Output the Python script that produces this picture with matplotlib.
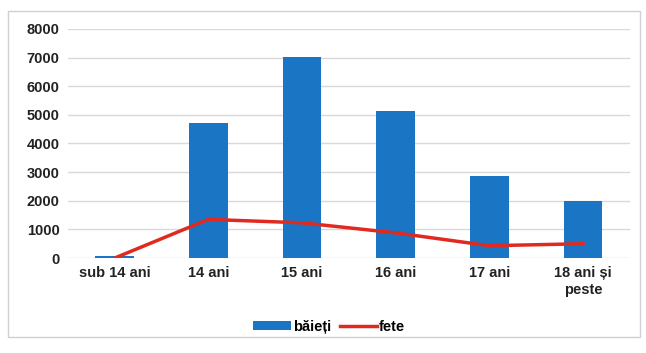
import matplotlib.pyplot as plt
from matplotlib.patches import Rectangle
from matplotlib import font_manager

categorii = ['sub 14 ani', '14 ani', '15 ani', '16 ani', '17 ani', '18 ani și\npeste']
baieti = [60, 4720, 7020, 5140, 2870, 2000]
fete = [0, 1350, 1230, 880, 430, 500]

names = {f.name for f in font_manager.fontManager.ttflist}
fam = 'Liberation Sans Narrow' if 'Liberation Sans Narrow' in names else 'Liberation Sans'
plt.rcParams['font.family'] = [fam, 'DejaVu Sans']

fig = plt.figure(figsize=(6.46, 3.53), dpi=100)
ax = fig.add_axes([0.105, 0.269, 0.870, 0.649])

x = list(range(len(categorii)))
bars = ax.bar(x, baieti, width=0.41, color='#1a75c4', label='băieți', zorder=2)
line, = ax.plot(x, fete, color='#e02a20', linewidth=2.5, label='fete', zorder=3)

ax.set_xlim(-0.5, 5.5)
ax.set_ylim(0, 8000)
ax.set_yticks(range(0, 8001, 1000))
ax.set_xticks(x)
ax.set_xticklabels(categorii)
ax.grid(axis='y', color='#d9d9d9', linewidth=1, zorder=0)
for s in ax.spines.values():
    s.set_visible(False)
ax.tick_params(length=0, labelsize=10.5, colors='#222222', pad=6)
for t in ax.get_xticklabels() + ax.get_yticklabels():
    t.set_fontweight('bold')

leg = ax.legend([bars, line], ['băieți', 'fete'], loc='center', bbox_to_anchor=(0.465, -0.3),
                ncol=2, frameon=False, fontsize=10.5, handlelength=2.6, handleheight=0.5,
                handletextpad=0.1, columnspacing=0.6)
for t in leg.get_texts():
    t.set_fontweight('bold')

fig.patches.append(Rectangle((0.012, 0.045), 0.978, 0.925, transform=fig.transFigure,
                             fill=False, edgecolor='#d0d0d0', linewidth=1))

fig.savefig('out.png', dpi=100)
